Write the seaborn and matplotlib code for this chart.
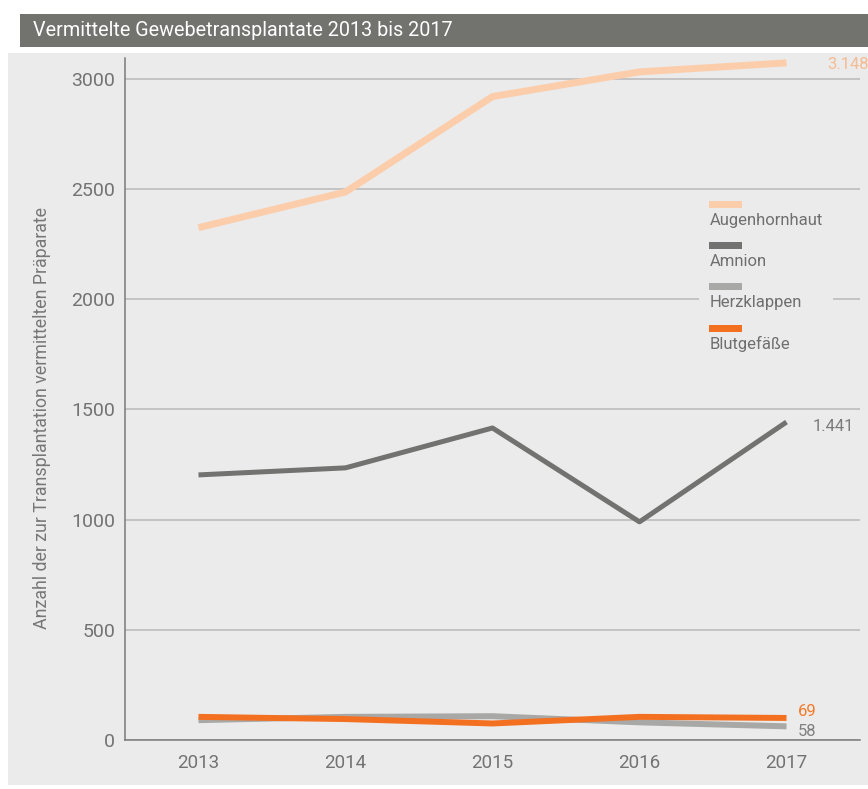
import numpy as np
import pandas as pd
import matplotlib
matplotlib.use("Agg")
import matplotlib.pyplot as plt
import seaborn as sns
from matplotlib.patches import Rectangle
from matplotlib.legend_handler import HandlerBase
from matplotlib.lines import Line2D

# ---------------- data ----------------
years = [2013, 2014, 2015, 2016, 2017]
x_tick_labels = ["2013", "2014", "2015", "2016", "2017"]
series = ["Augenhornhaut", "Amnion", "Herzklappen", "Blutgefäße"]
augenhornhaut = [2325, 2487, 2920, 3032, 3073]
amnion = [1203, 1235, 1416, 990, 1443]
herzklappen = [90, 105, 108, 80, 62]
blutgefaesse = [105, 95, 75, 105, 100]
end_labels = ["3.148", "1.441", "58", "69"]
y_ticks = [0, 500, 1000, 1500, 2000, 2500, 3000]
y_tick_labels = ["0", "500", "1000", "1500", "2000", "2500", "3000"]
title = "Vermittelte Gewebetransplantate 2013 bis 2017"
ylabel = "Anzahl der zur Transplantation vermittelten Präparate"

values = {"Augenhornhaut": augenhornhaut, "Amnion": amnion,
          "Herzklappen": herzklappen, "Blutgefäße": blutgefaesse}
df = pd.DataFrame({
    "Jahr": years * len(series),
    "Serie": np.repeat(series, len(years)),
    "Anzahl": augenhornhaut + amnion + herzklappen + blutgefaesse,
})

# ---------------- style ----------------
sns.set_style("white")
plt.rcParams["font.family"] = ["Roboto", "DejaVu Sans"]

palette = {"Augenhornhaut": "#fccdaa", "Amnion": "#727270",
           "Herzklappen": "#a8a8a6", "Blutgefäße": "#f37021"}
widths = {"Augenhornhaut": 5.0, "Amnion": 3.6,
          "Herzklappen": 4.3, "Blutgefäße": 4.3}
label_colors = ["#f5bb92", "#7a7a7a", "#808080", "#f47a2a"]
label_offsets = [(41, -2), (26, -4), (11, -5), (11, 6)]

W, H = 868, 789
fig = plt.figure(figsize=(W / 100, H / 100), dpi=100, facecolor="white")

# panel background and title bar
fig.patches.append(Rectangle((8 / W, 1 - 785 / H), 1 - 8 / W, (785 - 53) / H,
                             transform=fig.transFigure, facecolor="#ebebeb",
                             edgecolor="none", zorder=-2))
fig.patches.append(Rectangle((20 / W, 1 - 47 / H), 1 - 20 / W, 33 / H,
                             transform=fig.transFigure, facecolor="#72726f",
                             edgecolor="none", zorder=-2))
fig.text(33 / W, 1 - 30 / H, title, color="white", fontsize=14.2,
         va="center", ha="left")

ax = fig.add_axes([125 / W, 1 - 740 / H, 735 / W, 682 / H])
ax.set_facecolor("#ebebeb")

for s in series:
    sns.lineplot(data=df[df["Serie"] == s], x="Jahr", y="Anzahl",
                 color=palette[s], linewidth=widths[s], estimator=None,
                 legend=False, ax=ax, solid_capstyle="butt")

ax.set_xlim(2012.5, 2017.5)
ax.set_ylim(0, 3095)
ax.set_xticks(years)
ax.set_xticklabels(x_tick_labels)
ax.set_xticks([2013.5, 2014.5, 2015.5, 2016.5], minor=True)
ax.set_yticks(y_ticks)
ax.set_yticklabels(y_tick_labels)
ax.tick_params(axis="x", which="major", length=0, pad=10,
               labelsize=13.5, labelcolor="#737373")
ax.tick_params(axis="x", which="minor", direction="inout", length=16,
               width=1.1, color="#7a7a7a")
ax.tick_params(axis="y", length=0, pad=7, labelsize=14, labelcolor="#737373")
ax.yaxis.grid(True, color="#b9b9b9", linewidth=1.1)
ax.xaxis.grid(False)
ax.set_axisbelow(True)
for sp in ["top", "right"]:
    ax.spines[sp].set_visible(False)
for sp in ["left", "bottom"]:
    ax.spines[sp].set_color("#7a7a7a")
    ax.spines[sp].set_linewidth(1.1)

ax.set_xlabel("")
ax.set_ylabel(ylabel, fontsize=12.8, color="#777777")
ax.yaxis.set_label_coords(-0.1007, 0.472)

# end labels
for s, lbl, col, (dx, dy) in zip(series, end_labels, label_colors, label_offsets):
    ax.annotate(lbl, xy=(years[-1], values[s][-1]), xytext=(dx, dy),
                textcoords="offset pixels", ha="left", va="center",
                color=col, fontsize=12)


# legend with the swatch above each label
class TopBarHandler(HandlerBase):
    def create_artists(self, legend, orig_handle, xdescent, ydescent,
                       width, height, fontsize, trans):
        r = Rectangle((-xdescent, 1.03 * fontsize), width, 0.42 * fontsize,
                      facecolor=orig_handle.get_color(), edgecolor="none",
                      transform=trans)
        return [r]


leg = ax.legend(handles=list(ax.lines[:4]), labels=series,
                handler_map={Line2D: TopBarHandler()},
                loc="upper left", bbox_to_anchor=(0.7815, 0.787),
                borderaxespad=0, handlelength=1.98, handletextpad=-1.98,
                labelspacing=1.55, borderpad=0.6, frameon=True,
                fancybox=False, facecolor="#ebebeb", edgecolor="none",
                framealpha=1, fontsize=12, labelcolor="#6f6f6f")

fig.savefig("out.png", dpi=100, facecolor="white")
